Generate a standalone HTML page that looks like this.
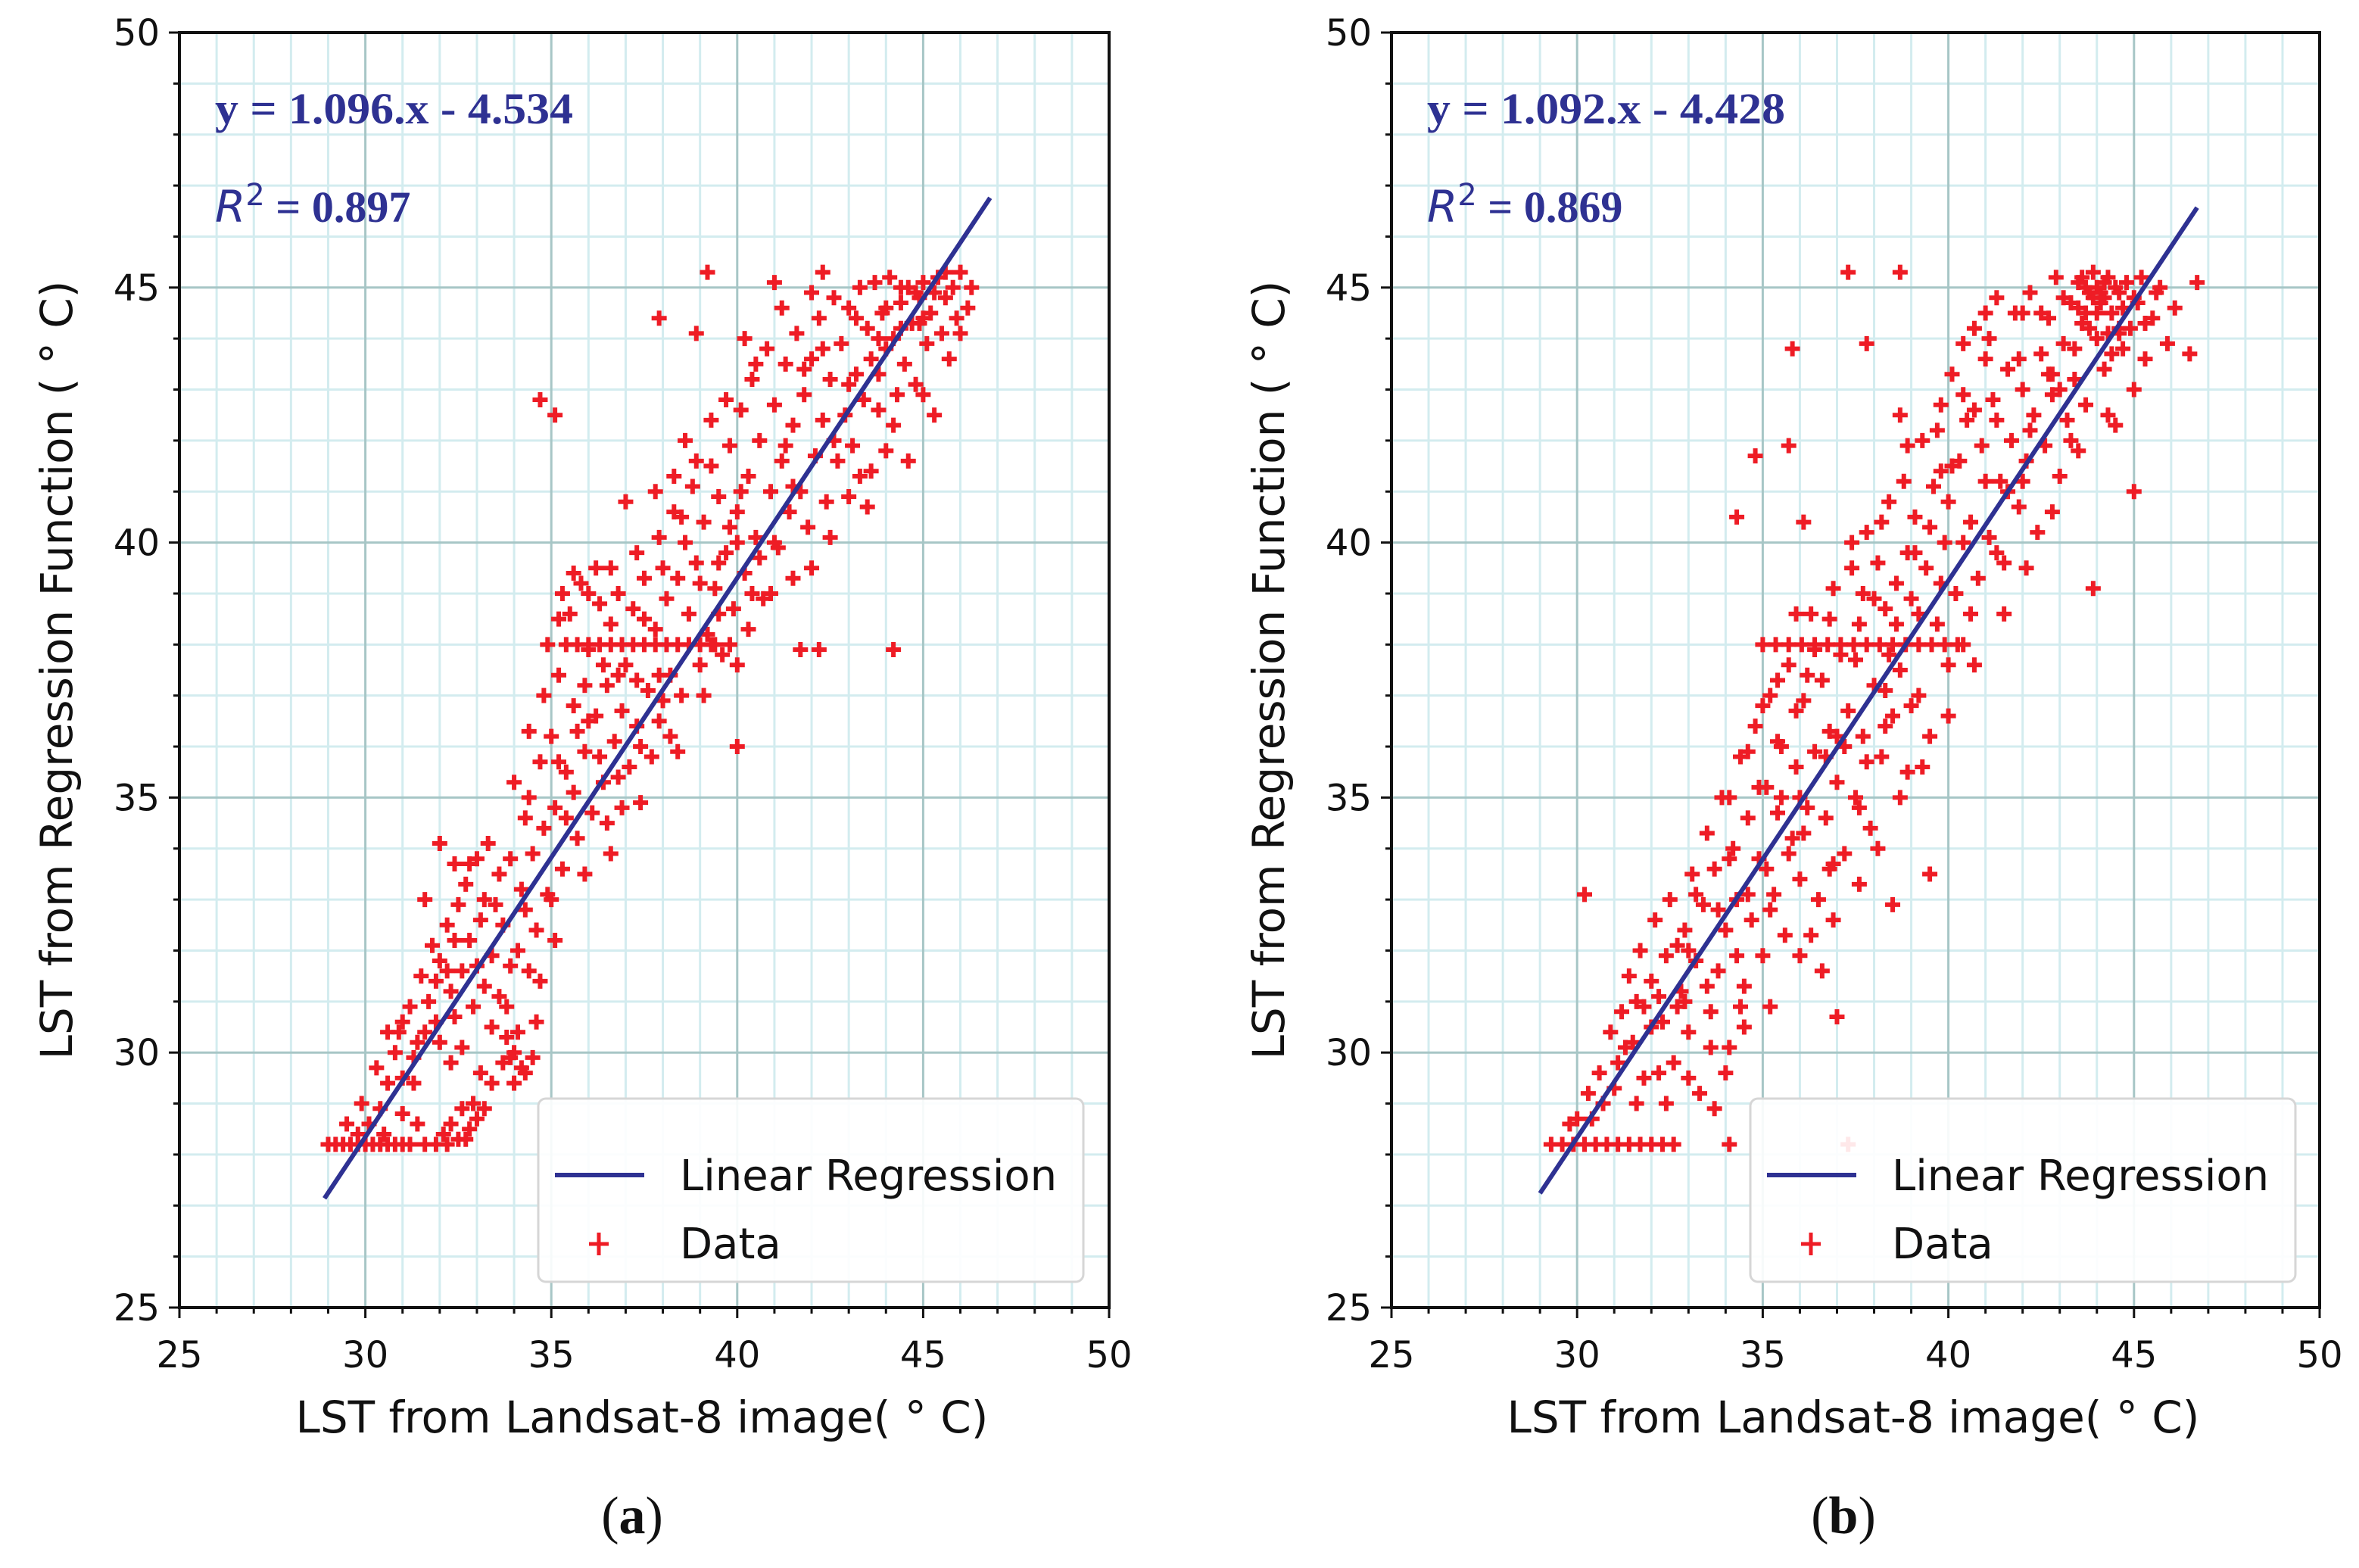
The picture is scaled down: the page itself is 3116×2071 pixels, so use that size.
<!DOCTYPE html>
<html><head><meta charset="utf-8"><style>
html,body{margin:0;padding:0;background:#fff;width:3116px;height:2071px;overflow:hidden}
svg{display:block}
</style></head><body>
<svg id="fig" width="3116" height="2071" viewBox="0 0 3116 2071" xmlns="http://www.w3.org/2000/svg"></svg>
<script>
const xTicks=[25,30,35,40,45,50];
const yTicks=[25,30,35,40,45,50];
const panelLabels=["a","b"];
const eqTexts=["y = 1.096.x - 4.534","y = 1.092.x - 4.428"];
const r2Texts=["0.897","0.869"];
const slopes=[1.096,1.092];
const intercepts=[-4.534,-4.428];
const lineXStart=[28.9,29.0];
const lineXEnd=[46.8,46.7];
const dataA=[[29.0,28.2],[29.2,28.2],[29.4,28.2],[29.6,28.2],[29.8,28.2],[30.0,28.2],[30.2,28.2],[30.4,28.2],[30.6,28.2],[30.8,28.2],[31.0,28.2],[31.2,28.2],
[31.6,28.2],[31.9,28.2],[32.2,28.2],[32.5,28.3],[32.8,28.5],[32.3,28.6],[32.6,28.9],[33.0,28.7],[32.1,28.4],[32.9,29.0],
[30.1,28.6],[30.4,28.9],[30.6,29.4],[30.3,29.7],[30.8,30.0],[31.0,29.5],[30.9,30.4],[31.2,30.9],[31.4,30.2],[31.5,31.5],[31.7,31.0],[31.8,32.1],[31.9,30.6],[32.0,31.8],[32.2,32.5],[32.3,31.2],[32.4,30.7],[32.5,32.9],[32.6,31.6],[32.7,33.3],[32.8,32.2],[32.9,30.9],[33.0,33.8],[33.1,32.6],[33.2,31.3],[33.3,34.1],[33.4,30.5],[33.5,32.9],[33.6,33.5],[33.7,29.8],[33.8,30.9],[33.9,31.7],[34.0,29.4],[34.1,30.4],[34.2,33.2],[34.3,34.6],[34.0,35.3],[34.4,31.6],[34.5,33.9],[34.6,32.4],[34.7,35.7],[34.8,34.4],[34.9,33.1],[35.0,36.2],[35.1,34.8],[35.2,37.4],[35.3,33.6],[35.4,35.5],[35.5,38.6],[35.6,36.8],[35.7,34.2],[35.8,39.2],[35.9,35.9],[36.0,37.9],[36.1,34.7],[36.2,36.6],[36.3,38.8],[36.4,35.3],[36.5,37.2],[36.6,33.9],[36.7,36.1],[36.8,39.0],[36.9,34.8],[37.0,37.6],[37.1,35.6],[37.2,38.7],[37.3,36.4],[37.4,34.9],[37.5,39.3],[37.6,37.1],[37.7,35.8],[37.8,38.3],[37.9,40.1],[38.0,36.9],[38.1,38.9],[38.2,37.4],[38.3,40.6],[38.4,39.3],[38.5,37.0],[38.6,40.0],[38.7,38.6],[38.8,41.1],[38.9,39.6],[39.0,37.6],[39.1,40.4],[39.2,38.2],[39.3,41.5],[39.4,39.1],[39.5,40.9],[39.6,37.8],[39.7,39.8],[39.8,41.9],[39.9,38.7],[40.0,40.6],[40.1,42.6],[40.2,39.4],[40.3,41.3],[40.4,43.2],[40.5,40.1],[40.6,42.0],[40.7,38.9],[40.8,43.8],[40.9,41.0],[41.0,42.7],[41.1,39.9],[41.2,41.6],[41.3,43.5],[41.4,40.6],[41.5,42.3],[41.6,44.1],[41.7,41.0],[41.8,42.9],[41.9,40.3],[42.0,43.6],[42.1,41.7],[42.2,44.4],[42.3,42.4],[42.4,40.8],[42.5,43.2],[42.6,44.8],[42.7,41.6],[42.8,43.9],[42.9,42.5],[43.0,44.6],[43.1,41.9],[43.2,43.3],[43.3,45.0],[43.4,42.8],[43.5,44.2],[43.6,43.6],[43.7,45.1],[43.8,42.6],[43.9,44.5],[44.0,43.8],[44.1,45.2],[44.2,44.0],[44.3,42.9],[44.4,44.7],[44.5,43.5],[44.6,45.0],[44.7,44.3],[44.8,43.1],[44.9,44.8],[45.0,45.1],[45.1,43.9],[45.2,44.5],[45.3,42.5],[45.4,45.2],[45.5,44.1],[45.6,44.8],[45.7,43.6],[45.8,45.0],[45.9,44.4],[46.0,45.3],[46.2,44.6],[46.3,45.0],
[35.4,38],[35.7,38],[36.0,38],[36.3,38],[36.6,38],[36.9,38],[37.2,38],[37.5,38],[37.8,38],[38.1,38],[38.4,38],[38.7,38],[39.0,38],[39.4,38],[39.8,38],
[34.7,42.8],[35.1,42.5],[37.9,44.4],[39.2,45.3],[38.9,44.1],[44.2,37.9],[42.3,45.3],[40.0,36.0],[41.7,37.9],[42.2,37.9],
[33.2,33.0],[33.6,31.1],[34.1,32.0],[34.6,30.6],[35.0,33.0],[35.4,34.6],[35.9,33.5],[36.3,35.8],[36.8,35.4],[37.3,37.3],[37.9,36.5],[38.4,35.9],[39.0,39.2],[39.5,38.6],[40.0,37.6],[40.4,39.0],[41.0,40.0],[41.5,41.1],[42.0,39.5],[43.0,40.9],[43.6,41.4],[44.2,42.3],[44.6,41.6],[29.5,28.6],[29.9,29.0],[31.3,29.4],[31.6,33.0],[32.0,34.1],[32.4,33.7],[34.4,36.3],[34.8,37.0],[35.3,39.0],[36.2,39.5],[37.0,40.8],[37.8,41.0],[38.6,42.0],[39.3,42.4],[40.2,44.0],[41.0,45.1],[36.0,36.5],[36.5,34.5],[34.0,30.0],[34.3,29.6],[33.8,30.3],[43.8,44.0],[44.4,45.0],[45.0,44.4],[44.0,44.6],
[30.5,28.4],[31.0,28.8],[31.3,29.9],[31.6,30.4],[32.0,30.2],[32.3,29.8],[32.6,30.1],[33.1,29.6],[33.4,29.4],[33.9,29.9],[34.2,29.7],[34.5,29.9],[33.0,31.7],[32.4,32.2],[31.9,31.4],[32.8,33.7],[33.4,31.9],[33.9,33.8],[34.3,32.8],[34.7,31.4],[35.1,32.2],[35.2,35.7],[35.6,35.1],[35.9,37.2],[36.4,37.6],[36.9,36.7],[37.4,36.0],[37.5,38.5],[38.0,39.5],[38.5,40.5],[38.2,36.2],[39.1,37.0],[39.5,39.6],[39.8,40.3],[40.1,41.0],[40.6,39.7],[40.9,39.0],[41.3,41.9],[41.8,43.4],[42.3,43.8],[42.6,42.0],[43.0,43.1],[43.3,41.3],[43.8,43.3],[44.4,44.2],[44.9,44.3],[45.3,44.9],[45.6,45.3],[46.0,44.1],[41.2,44.6],[40.5,43.5],[39.7,42.8],[38.9,41.6],[38.3,41.3],[37.3,39.8],[36.6,39.5],[36.0,39.0],[35.6,39.4],[35.2,38.5],[34.9,38.0],[36.6,38.4],[37.9,37.4],[39.3,38.0],[40.3,38.3],[41.5,39.3],[42.5,40.1],[43.5,40.7],[44.0,41.8],[45.0,42.9],[44.8,44.9],[43.2,44.4],[42.0,44.9],[40.0,40.0],[36.8,37.4],[35.7,36.3],[34.4,35.0],[33.7,32.5],[32.2,31.6],[31.0,30.6],[30.6,30.4],[29.8,28.4],[31.4,28.6],[32.7,28.3],[33.2,28.9]];
const dataB=[[29.3,28.2],[29.6,28.2],[29.9,28.2],[30.2,28.2],[30.5,28.2],[30.8,28.2],[31.1,28.2],[31.4,28.2],[31.7,28.2],[32.0,28.2],[32.3,28.2],[32.6,28.2],
[30.0,28.7],[30.3,29.2],[30.6,29.6],[30.9,30.4],[31.0,29.3],[31.2,30.8],[31.4,31.5],[31.5,30.2],[31.7,32.0],[31.8,30.9],[32.0,31.4],[32.1,32.6],[32.3,30.6],[32.4,31.9],[32.5,33.0],[32.6,29.8],[32.8,31.2],[32.9,32.4],[33.0,30.4],[33.1,33.5],[33.2,31.8],[33.3,29.2],[33.4,32.9],[33.5,34.3],[33.6,30.8],[33.7,33.6],[33.8,31.6],[33.9,35.0],[34.0,32.4],[34.1,30.1],[34.2,34.0],[34.3,33.0],[34.4,35.8],[34.5,31.3],[34.6,34.6],[34.7,32.6],[34.8,36.4],[34.9,33.8],[35.0,31.9],[35.1,35.2],[35.2,37.0],[35.3,33.1],[35.4,34.7],[35.5,36.0],[35.6,32.3],[35.7,37.6],[35.8,34.2],[35.9,35.6],[36.0,33.4],[36.1,36.9],[36.2,34.8],[36.3,38.6],[36.4,35.9],[36.5,33.0],[36.6,37.3],[36.7,34.6],[36.8,36.3],[36.9,39.1],[37.0,35.3],[37.1,37.8],[37.2,33.9],[37.3,36.7],[37.4,39.5],[37.5,35.0],[37.6,38.4],[37.7,36.2],[37.8,40.2],[37.9,34.4],[38.0,37.2],[38.1,39.6],[38.2,35.8],[38.3,38.7],[38.4,40.8],[38.5,36.6],[38.6,39.2],[38.7,37.5],[38.8,41.2],[38.9,35.5],[39.0,38.9],[39.1,40.5],[39.2,37.0],[39.3,42.0],[39.4,39.5],[39.5,36.2],[39.6,41.1],[39.7,38.4],[39.8,42.7],[39.9,40.0],[40.0,37.6],[40.1,43.3],[40.2,39.0],[40.3,41.6],[40.4,38.0],[40.5,42.4],[40.6,40.4],[40.7,44.2],[40.8,39.3],[40.9,41.9],[41.0,43.6],[41.1,40.1],[41.2,42.8],[41.3,44.8],[41.4,41.2],[41.5,39.6],[41.6,43.4],[41.7,42.0],[41.8,44.5],[41.9,40.7],[42.0,43.0],[42.1,41.6],[42.2,44.9],[42.3,42.5],[42.4,40.2],[42.5,43.7],[42.6,41.9],[42.7,44.4],[42.8,42.9],[42.9,45.2],[43.0,41.3],[43.1,43.9],[43.2,42.4],[43.3,44.7],[43.4,43.2],[43.5,45.1],[43.6,44.3],[43.7,42.7],[43.8,44.9],[43.9,45.3],[44.0,44.0],[44.1,44.7],[44.2,43.4],[44.3,45.2],[44.4,44.5],[44.5,42.3],[44.6,44.9],[44.7,43.8],[44.8,45.1],[44.9,44.2],[45.0,43.0],[45.1,44.7],[45.2,45.2],[45.3,43.6],[45.5,44.4],[45.7,45.0],[45.9,43.9],[46.1,44.6],[43.7,44.5],[44.3,44.1],[43.9,44.8],[44.5,45.0],
[35.0,38],[35.35,38],[35.7,38],[36.05,38],[36.4,38],[36.75,38],[37.1,38],[37.45,38],[37.8,38],[38.15,38],[38.5,38],[38.85,38],[39.2,38],[39.55,38],[39.9,38],[40.25,38],
[34.3,40.5],[34.8,41.7],[35.7,41.9],[35.8,43.8],[37.3,45.3],[38.7,45.3],[37.8,43.9],[38.7,42.5],[36.1,40.4],[45.0,41.0],[43.9,39.1],
[30.2,33.1],[37.3,28.2],[34.1,28.2],[46.7,45.1],[46.5,43.7],[39.5,33.5],[38.5,32.9],[37.0,30.7],[36.6,31.6],[33.7,28.9],[34.0,29.6],
[32.2,29.6],[33.0,32.0],[34.5,30.5],[35.2,32.8],[36.0,35.0],[36.8,33.6],[37.6,34.8],[38.3,36.4],[39.0,36.8],[40.0,40.8],[40.6,38.6],[41.3,39.8],[42.0,41.2],[42.7,43.3],[43.3,42.0],[44.0,45.0],[44.6,44.2],[43.6,45.2],[44.2,44.8],[35.5,35.0],[36.2,37.4],[37.0,36.2],[37.7,39.0],[38.4,37.8],[39.1,39.8],[39.8,41.4],[40.4,42.9],[41.1,44.0],[31.6,29.0],[32.7,30.9],
[29.8,28.6],[30.4,28.7],[30.7,29.0],[31.1,29.8],[31.3,30.1],[31.6,31.0],[32.0,30.5],[32.2,31.1],[32.7,32.1],[32.9,31.0],[33.2,33.1],[33.5,31.3],[33.8,32.8],[34.1,33.8],[34.3,31.9],[34.6,33.1],[34.9,35.2],[35.1,33.6],[35.4,36.1],[35.7,33.9],[35.9,36.7],[36.1,34.3],[36.4,37.9],[36.7,35.8],[36.9,33.7],[37.2,36.0],[37.5,37.7],[37.8,35.7],[38.0,38.9],[38.3,37.1],[38.6,38.4],[38.9,39.8],[39.2,38.6],[39.5,40.3],[39.8,39.2],[40.1,41.5],[40.4,40.0],[40.7,42.6],[41.0,41.2],[41.3,42.4],[41.6,41.0],[41.9,43.6],[42.2,42.2],[42.5,44.5],[42.8,43.3],[43.1,44.8],[43.4,43.8],[43.7,45.0],[44.0,44.5],[44.2,45.1],[44.4,43.7],[44.7,44.6],[45.0,44.8],[45.3,44.3],[45.6,44.9],[43.8,44.2],[44.1,44.9],[44.6,44.1],[43.5,44.6],[43.0,43.0],[42.0,44.5],[41.0,44.5],[40.4,43.9],[39.7,42.2],[38.9,41.9],[38.2,40.4],[37.4,40.0],[36.8,38.5],[35.9,38.6],[35.4,37.3],[35.0,36.8],[34.6,35.9],[34.1,35.0],[36.3,32.3],[36.0,31.9],[36.9,32.6],[37.6,33.3],[38.1,34.0],[38.7,35.0],[39.3,35.6],[40.0,36.6],[40.7,37.6],[41.5,38.6],[42.1,39.5],[42.8,40.6],[43.5,41.8],[44.3,42.5],[33.0,29.5],[33.6,30.1],[34.4,30.9],[35.2,30.9],[32.4,29.0],[31.8,29.5]];
const datasets=[dataA,dataB];

const NS="http://www.w3.org/2000/svg";
const svg=document.getElementById('fig');
function mk(tag,attrs,parent){const e=document.createElementNS(NS,tag);for(const k in attrs)e.setAttribute(k,attrs[k]);(parent||svg).appendChild(e);return e;}
const panelX0=[237,1838], panelX1=[1465,3064];
const Y0=1727, Y1=43;
const FONT='"DejaVu Sans","Liberation Sans",sans-serif';
const SERIF='"Liberation Serif","DejaVu Serif",serif';

for(let p=0;p<2;p++){
  const x0=panelX0[p], x1=panelX1[p];
  const sx=v=>x0+(v-25)/(25)*(x1-x0);
  const sy=v=>Y0-(v-25)/(25)*(Y0-Y1);
  const g=mk('g',{});
  
  
  for(let v=26;v<50;v++){
    if(v%5===0)continue;
    const l1=mk('line',{x1:sx(v),x2:sx(v),y1:Y1,y2:Y0,stroke:'#d3ecef','stroke-width':3},g);
    
    
    const l2=mk('line',{x1:x0,x2:x1,y1:sy(v),y2:sy(v),stroke:'#d3ecef','stroke-width':3},g);
    
    
  }
  for(const v of [30,35,40,45]){
    const l1=mk('line',{x1:sx(v),x2:sx(v),y1:Y1,y2:Y0,stroke:'#a7c6c6','stroke-width':3},g);
    
    
    const l2=mk('line',{x1:x0,x2:x1,y1:sy(v),y2:sy(v),stroke:'#a7c6c6','stroke-width':3},g);
    
    
  }
  const pts=mk('g',{stroke:'#ee1c25','stroke-width':6},g);
  
  
  for(const d of datasets[p]){
    const cx=sx(d[0]), cy=sy(d[1]);
    const m=mk('path',{d:`M${cx-10},${cy}H${cx+10}M${cx},${cy-10}V${cy+10}`},pts);
    
    
  }
  const xa=lineXStart[p], xb=lineXEnd[p];
  const rl=mk('line',{x1:sx(xa),y1:sy(slopes[p]*xa+intercepts[p]),x2:sx(xb),y2:sy(slopes[p]*xb+intercepts[p]),stroke:'#2e3192','stroke-width':6},g);
  
  
  const fr=mk('rect',{x:x0,y:Y1,width:x1-x0,height:Y0-Y1,fill:'none',stroke:'#111','stroke-width':4},g);
  
  
  for(let v=25;v<=50;v++){
    const major=v%5===0, len=major?14:8;
    const t1=mk('line',{x1:sx(v),x2:sx(v),y1:Y0,y2:Y0+len,stroke:'#111','stroke-width':3},g);
    
    
    const t2=mk('line',{x1:x0-len,x2:x0,y1:sy(v),y2:sy(v),stroke:'#111','stroke-width':3},g);
    
    
  }
  for(const v of xTicks){
    const t=mk('text',{x:sx(v),y:1806,'text-anchor':'middle','font-family':FONT,'font-size':48,fill:'#111'},g);
    t.textContent=v;
    
    
  }
  for(const v of yTicks){
    const t=mk('text',{x:x0-26,y:sy(v)+17,'text-anchor':'end','font-family':FONT,'font-size':48,fill:'#111'},g);
    t.textContent=v;
    
    
  }
  const xt=mk('text',{x:(x0+x1)/2-3,y:1892,'text-anchor':'middle','font-family':FONT,'font-size':58,fill:'#111'},g);
  xt.textContent='LST from Landsat-8 image( \u00B0 C)';
  
  
  const yt=mk('text',{x:0,y:0,'text-anchor':'middle','font-family':FONT,'font-size':58,fill:'#111',transform:`translate(${x0-142},${(Y0+Y1)/2}) rotate(-90)`},g);
  yt.textContent='LST from Regression Function ( \u00B0 C)';
  
  
  const eq=mk('text',{x:x0+47,y:163,'font-family':SERIF,'font-weight':'bold','font-size':58,fill:'#2e3192',textLength:473,lengthAdjust:'spacingAndGlyphs'},g);
  eq.textContent=eqTexts[p];
  
  
  const r2=mk('text',{x:x0+47,y:293,'font-size':58,fill:'#2e3192'},g);
  
  
  const s1=mk('tspan',{'font-family':FONT,'font-style':'italic'},r2); s1.textContent='R';
  const s2=mk('tspan',{'font-family':FONT,'font-size':40,dy:-22},r2); s2.textContent='2';
  const s3=mk('tspan',{'font-family':SERIF,'font-weight':'bold',dy:22},r2); s3.textContent=' = '+r2Texts[p];
  const lg=mk('g',{},g);
  
  
  const lx=x0+474;
  mk('rect',{x:lx,y:1451,width:720,height:242,rx:10,fill:'rgba(255,255,255,0.9)',stroke:'#d6d6d6','stroke-width':3},lg);
  const le1=mk('line',{x1:lx+22,x2:lx+140,y1:1552,y2:1552,stroke:'#2e3192','stroke-width':6},lg);
  
  
  const lt1=mk('text',{x:lx+187,y:1572,'font-family':FONT,'font-size':56,fill:'#111'},lg);
  lt1.textContent='Linear Regression';
  
  
  const mx=lx+80, my=1643;
  const le2=mk('path',{d:`M${mx-13},${my}H${mx+13}M${mx},${my-15}V${my+15}`,stroke:'#ee1c25','stroke-width':5},lg);
  
  
  const lt2=mk('text',{x:lx+187,y:1662,'font-family':FONT,'font-size':56,fill:'#111'},lg);
  lt2.textContent='Data';
  
  
  const pl=mk('text',{x:(x0+x1)/2-16,y:2025,'text-anchor':'middle','font-family':SERIF,'font-size':70,fill:'#111'},g);
  
  
  const a1=mk('tspan',{},pl); a1.textContent='(';
  const a2=mk('tspan',{'font-weight':'bold'},pl); a2.textContent=panelLabels[p];
  const a3=mk('tspan',{},pl); a3.textContent=')';
}
</script>
</body></html>
